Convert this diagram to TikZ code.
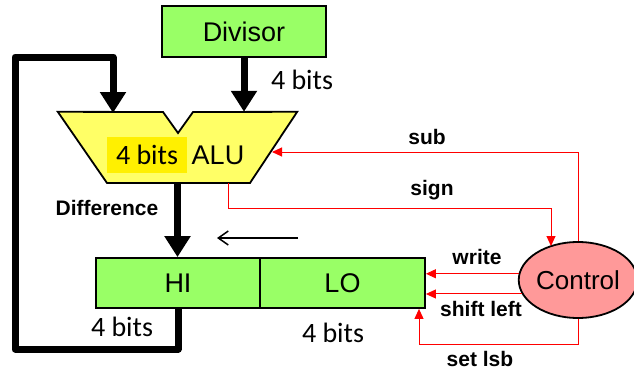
\documentclass[tikz,border=0pt]{standalone}
\usepackage{fontspec}
\setmainfont{Liberation Sans}
\newfontfamily\calib{Carlito}
\usetikzlibrary{arrows.meta,shapes.geometric}
\definecolor{boxgreen}{HTML}{99FF66}
\definecolor{aluyellow}{HTML}{FFFF66}
\definecolor{hiyellow}{HTML}{FFF000}
\definecolor{ctlpink}{HTML}{FF9999}
\tikzset{
  box/.style={draw=black, line width=1.8pt, fill=boxgreen, inner sep=0pt,
    font=\fontsize{27pt}{30pt}\selectfont},
  bits/.style={font=\calib\fontsize{28pt}{30pt}\selectfont, inner sep=0pt},
  lbl/.style={font=\bfseries\fontsize{21pt}{24pt}\selectfont, inner sep=0pt},
  bus/.style={line width=7pt, line join=round, -{Triangle[length=21pt,width=25pt]}},
  ctl/.style={draw=red, line width=1pt, -{Triangle[length=10pt,width=9pt]}},
  shiftarr/.style={line width=1.5pt, -{Straight Barb[length=10pt,width=14pt]}},
}
\begin{document}
\begin{tikzpicture}[x=1pt,y=-1pt]
\useasboundingbox (0,0) rectangle (634,372);

% boxes
\node[box, minimum width=164pt, minimum height=51pt] (divisor) at (244,31.5) {Divisor};
\node[box, minimum width=164pt, minimum height=50pt] (hi) at (178,283) {HI};
\node[box, minimum width=165pt, minimum height=50pt] (lo) at (342.5,283) {LO};

% ALU frame (invisible) and shape
\node[minimum width=239pt, minimum height=71pt, inner sep=0pt] (alu) at (177.5,147.5) {};
\draw[line width=1.8pt, fill=aluyellow, line join=miter]
  (alu.north west) -- (163,112) -- (178,133) -- (193,112) -- (alu.north east)
  -- (250,183) -- (107,183) -- cycle;
\node[fill=hiyellow, minimum width=80pt, minimum height=36pt, inner sep=0pt,
  font=\calib\fontsize{28pt}{30pt}\selectfont] (alubits) at (147,155) {4 bits};
\node[inner sep=0pt, font=\fontsize{27pt}{30pt}\selectfont] (alutext) at (218,155) {ALU};

% control
\node[draw=black, line width=1.8pt, fill=ctlpink, ellipse, minimum width=110pt,
  minimum height=76pt, inner sep=0pt, font=\fontsize{26pt}{30pt}\selectfont]
  (ctrl) at (578,280) {Control};

% buses
\draw[bus] (divisor.south) -- (divisor.south |- alu.north);
\draw[bus] (alu.south) -- (alu.south |- hi.north);
\coordinate (fbBL) at (15,349);
\coordinate (fbTL) at (15,57);
\coordinate (aluIn) at (113,113);
\draw[bus] (hi.south) |- (fbBL) -- (fbTL) -| (aluIn);

% shift direction arrow
\coordinate (shA) at (298,238);
\coordinate (shB) at (217,238);
\draw[shiftarr] (shA) -- (shB);

% control lines
\coordinate (subEnd) at (272,152);
\draw[ctl] (ctrl.north) |- (subEnd);
\coordinate (sgA) at (228,183);
\coordinate (sgB) at (551,208);
\coordinate (sgC) at (551,246);
\draw[ctl, -] (sgA) |- (sgB);
\draw[ctl] (sgB) -- (sgC);
\draw[ctl] (ctrl.174) -- (lo.east |- ctrl.174);
\draw[ctl] (ctrl.194) -- (lo.east |- ctrl.194);
\coordinate (slb) at (419,344);
\draw[ctl] (ctrl.south) |- (slb) -- (slb |- lo.south);

% labels
\node[bits] (b1) at (302,80) {4 bits};
\node[bits] (b2) at (122,327) {4 bits};
\node[bits] (b3) at (333,333) {4 bits};
\node[lbl] (ldiff) at (107,208) {Difference};
\node[lbl] (lsub) at (427,137) {sub};
\node[lbl] (lsign) at (432,190) {sign};
\node[lbl] (lwrite) at (477,257) {write};
\node[lbl] (lshift) at (481,309) {shift left};
\node[lbl] (lset) at (480,359) {set lsb};
\end{tikzpicture}
\end{document}
